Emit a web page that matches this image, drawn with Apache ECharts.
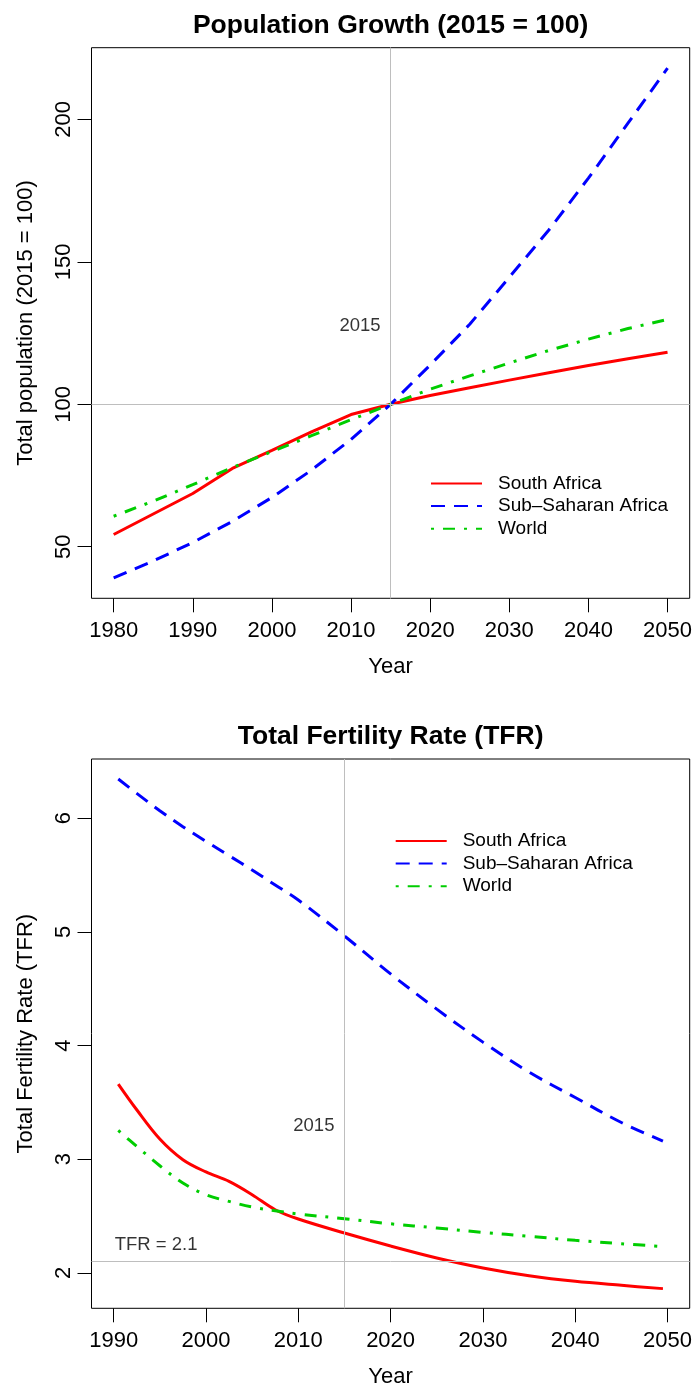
<!DOCTYPE html>
<html>
<head>
<meta charset="utf-8">
<script src="https://cdn.jsdelivr.net/npm/echarts@6/dist/echarts.min.js"></script>
<style>
html,body{margin:0;padding:0;background:#fff;}
#chart{width:697px;height:1391px;}
</style>
</head>
<body>
<div id="chart"></div>
<script>
// ---------- Data ----------
const seriesNames = ['South Africa', 'Sub\u2013Saharan Africa', 'World'];

const popYears = [1980, 1985, 1990, 1995, 2000, 2005, 2010, 2015, 2020, 2025, 2030, 2035, 2040, 2045, 2050];
const popSouthAfrica = [54.3, 61.5, 68.7, 77.5, 83.8, 90.3, 96.4, 100, 103.1, 105.8, 108.5, 111.1, 113.6, 116.0, 118.3];
const popSSA = [39.1, 45.0, 51.5, 58.9, 67.3, 76.9, 87.7, 100, 113.8, 128.1, 144.6, 161.2, 179.4, 198.7, 218.0];
const popWorld = [60.7, 66.0, 71.8, 77.8, 83.4, 89.0, 94.6, 100, 105.3, 110.0, 114.5, 118.9, 122.9, 126.6, 129.8];
const popXTicks = [1980, 1990, 2000, 2010, 2020, 2030, 2040, 2050];
const popYTicks = [50, 100, 150, 200];

const tfrYears = [1990.5, 1992.5, 1995, 1997.5, 2000, 2002.5, 2005, 2007.5, 2010, 2015, 2020, 2025, 2030, 2035, 2040, 2045, 2049.5];
const tfrSouthAfrica = [3.661, 3.435, 3.178, 2.996, 2.888, 2.805, 2.688, 2.556, 2.474, 2.351, 2.237, 2.132, 2.044, 1.976, 1.926, 1.891, 1.862];
const tfrSSA = [6.344, 6.218, 6.065, 5.925, 5.796, 5.670, 5.544, 5.412, 5.280, 4.964, 4.630, 4.320, 4.030, 3.766, 3.543, 3.323, 3.160];
const tfrWorld = [3.253, 3.113, 2.943, 2.791, 2.688, 2.629, 2.580, 2.547, 2.518, 2.477, 2.432, 2.395, 2.357, 2.322, 2.287, 2.257, 2.232];
const tfrXTicks = [1990, 2000, 2010, 2020, 2030, 2040, 2050];
const tfrYTicks = [2, 3, 4, 5, 6];

const refYear = 2015;
const popRefValue = 100;
const tfrRefValue = 2.1;
const popYearLabelValue = 127.6;
const tfrYearLabelValue = 3.296;
const tfrLabelAnchor = [1990, 2.244];

// ---------- Styling ----------
const FONT = '"Liberation Sans", Arial, Helvetica, sans-serif';
const colors = ['#FF0000', '#0000FF', '#00CD00'];
const dashTypes = ['solid', [14, 9], [3, 9, 12, 9]];
const GREY = '#BEBEBE';

function pairs(xs, ys) { return xs.map((x, i) => [x, ys[i]]); }
const plain = v => String(v);

function lineSeries(idx, xi, xs, ys, smooth) {
  return {
    type: 'line', name: seriesNames[idx], xAxisIndex: xi, yAxisIndex: xi,
    data: pairs(xs, ys), symbol: 'none', showSymbol: false, smooth: smooth,
    lineStyle: { color: colors[idx], width: 3, type: dashTypes[idx], cap: 'butt' },
    itemStyle: { color: colors[idx] }, z: 3, silent: true
  };
}

function xAxisCfg(gi, min, max, ticks) {
  return {
    gridIndex: gi, type: 'value', min: min, max: max,
    name: 'Year', nameLocation: 'middle', nameGap: 58,
    nameTextStyle: { fontSize: 22, color: '#000', fontFamily: FONT },
    axisLine: { show: false },
    axisTick: { show: true, customValues: ticks, length: 14, inside: false, lineStyle: { color: '#000', width: 1 } },
    axisLabel: { show: true, customValues: ticks, formatter: plain, fontSize: 22, color: '#000', margin: 22, fontFamily: FONT },
    splitLine: { show: false }
  };
}
function yAxisCfg(gi, min, max, ticks, name) {
  return {
    gridIndex: gi, type: 'value', min: min, max: max,
    name: name, nameLocation: 'middle', nameGap: 55, nameRotate: 90,
    nameTextStyle: { fontSize: 22, color: '#000', fontFamily: FONT },
    axisLine: { show: false },
    axisTick: { show: true, customValues: ticks, length: 14, inside: false, lineStyle: { color: '#000', width: 1 } },
    axisLabel: { show: true, customValues: ticks, formatter: plain, fontSize: 22, color: '#000', margin: 17, rotate: 90, fontFamily: FONT },
    splitLine: { show: false }
  };
}
function annotSeries(xi, points, refs) {
  return {
    type: 'scatter', name: 'annot' + xi, xAxisIndex: xi, yAxisIndex: xi,
    symbolSize: 0, silent: true, z: 2,
    data: points,
    markLine: {
      silent: true, symbol: ['none', 'none'], animation: false,
      label: { show: false },
      lineStyle: { color: GREY, width: 1, type: 'solid' },
      data: refs
    }
  };
}
function annotLabel(text, pos, dist) {
  return { show: true, formatter: text, position: pos, distance: dist, fontSize: 18.5, color: '#000', fontFamily: FONT };
}

const legendCommon = {
  orient: 'vertical', itemWidth: 51, itemHeight: 14, itemGap: 3.6, padding: 0,
  data: seriesNames, selectedMode: false,
  itemStyle: { opacity: 0 },
  textStyle: { fontSize: 19, color: '#000', fontFamily: FONT, padding: [0, 0, 0, 11] }
};

const option = {
  animation: false,
  backgroundColor: '#fff',
  title: [
    { text: 'Population Growth (2015 = 100)', left: 385.6, top: 7, textAlign: 'center',
      textStyle: { fontSize: 26.5, fontWeight: 'bold', color: '#000', fontFamily: FONT } },
    { text: 'Total Fertility Rate (TFR)', left: 385.6, top: 718, textAlign: 'center',
      textStyle: { fontSize: 26.5, fontWeight: 'bold', color: '#000', fontFamily: FONT } }
  ],
  legend: [
    Object.assign({}, legendCommon, { left: 430, top: 474 }),
    Object.assign({}, legendCommon, { left: 394.7, top: 831.5 })
  ],
  grid: [
    { left: 91.5, top: 47.7, width: 598.2, height: 550.6, show: true, borderColor: '#000', borderWidth: 1, backgroundColor: 'transparent', containLabel: false },
    { left: 91.5, top: 759, width: 598.2, height: 549.3, show: true, borderColor: '#000', borderWidth: 1, backgroundColor: 'transparent', containLabel: false }
  ],
  xAxis: [
    xAxisCfg(0, 1977.2, 2052.8, popXTicks),
    xAxisCfg(1, 1987.6, 2052.4, tfrXTicks)
  ],
  yAxis: [
    yAxisCfg(0, 31.9, 225.2, popYTicks, 'Total population (2015 = 100)'),
    yAxisCfg(1, 1.689, 6.52, tfrYTicks, 'Total Fertility Rate (TFR)')
  ],
  series: [
    annotSeries(0,
      [{ value: [refYear, popYearLabelValue], label: annotLabel('2015', 'left', 10) }],
      [{ xAxis: refYear }, { yAxis: popRefValue }]),
    lineSeries(0, 0, popYears, popSouthAfrica, false),
    lineSeries(1, 0, popYears, popSSA, false),
    lineSeries(2, 0, popYears, popWorld, false),
    annotSeries(1,
      [{ value: [refYear, tfrYearLabelValue], label: annotLabel('2015', 'left', 10) },
       { value: tfrLabelAnchor, label: annotLabel('TFR = 2.1', 'right', 1) }],
      [{ xAxis: refYear }, { yAxis: tfrRefValue }]),
    lineSeries(0, 1, tfrYears, tfrSouthAfrica, 0.35),
    lineSeries(1, 1, tfrYears, tfrSSA, 0.35),
    lineSeries(2, 1, tfrYears, tfrWorld, 0.35)
  ]
};

const chart = echarts.init(document.getElementById('chart'), null, { renderer: 'canvas' });
chart.setOption(option);
</script>
</body>
</html>
